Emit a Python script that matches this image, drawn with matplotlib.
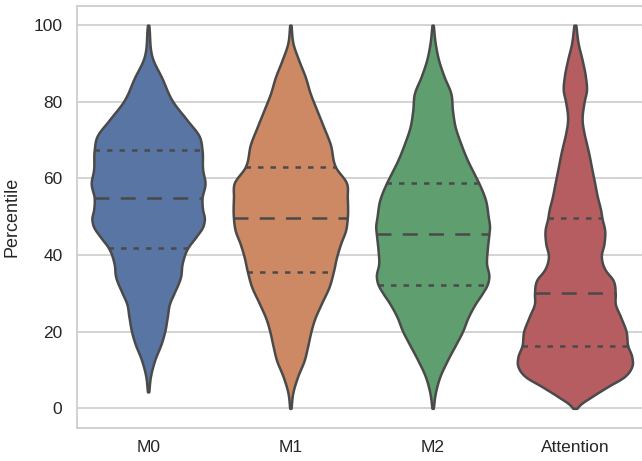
import numpy as np
import matplotlib
matplotlib.use("Agg")
import matplotlib.pyplot as plt
import seaborn as sns

categories = ["M0", "M1", "M2", "Attention"]

# density profiles: percentile levels and relative half-widths
m0_y = [100, 90.9, 86.5, 80.0, 75.2, 70.9, 67.4, 62.2, 58.7, 54.8, 51.7, 49.6, 47.4, 44.8,
        41.9, 37.8, 34.3, 30.0, 27.4, 23.9, 20.0, 17.0, 12.6, 8.3, 4.3]
m0_w = [2, 15, 40, 75, 118, 155, 163, 165, 172, 163, 165, 170, 165, 145,
        120, 103, 98, 78, 65, 58, 50, 40, 20, 7, 2]

m1_y = [100, 95.2, 90.9, 86.5, 82.2, 77.8, 73.5, 69.1, 62.9, 58.7, 55.2, 49.6, 46.5, 43.0,
        39.6, 35.7, 31.7, 27.4, 23.0, 20.0, 16.1, 12.6, 8.3, 3.9, 0]
m1_w = [2, 8, 25, 45, 60, 80, 100, 120, 137, 170, 172, 172, 167, 152,
        140, 130, 117, 94, 72, 62, 52, 42, 22, 7, 2]

m2_y = [100, 95.2, 90.9, 86.5, 82.2, 77.8, 73.5, 69.1, 64.8, 61.3, 58.7, 54.3, 50.0, 47.4,
        45.4, 41.3, 37.8, 34.3, 32.3, 30.0, 27.4, 23.9, 20.0, 17.0, 12.6, 8.3, 3.9, 0]
m2_w = [2, 8, 18, 35, 55, 60, 68, 85, 105, 125, 140, 160, 168, 172,
        170, 165, 163, 170, 165, 150, 130, 108, 90, 72, 45, 22, 8, 2]

att_y = [100, 95.2, 90.9, 86.5, 83.0, 80.0, 75.2, 71.7, 69.1, 66.5, 63.0, 58.7, 55.2, 51.7,
         49.6, 46.5, 43.0, 39.6, 36.1, 33.5, 30.0, 27.4, 23.9, 20.0, 16.3, 13.5, 10.9,
         8.3, 5.7, 3.0, 0.9, 0]
att_w = [3, 10, 22, 32, 35, 28, 22, 28, 35, 42, 50, 60, 68, 78,
         82, 90, 88, 80, 92, 115, 122, 122, 138, 155, 160, 172, 172,
         150, 100, 50, 15, 6]

# quartiles (Q1, median, Q3)
m0_q = [41.9, 54.8, 67.4]
m1_q = [35.7, 49.6, 62.9]
m2_q = [32.3, 45.4, 58.7]
att_q = [16.3, 30.0, 49.6]

profiles = [(m0_y, m0_w, m0_q), (m1_y, m1_w, m1_q), (m2_y, m2_w, m2_q), (att_y, att_w, att_q)]

plt.rcParams["font.family"] = ["Liberation Sans", "DejaVu Sans"]

base_colors = sns.color_palette("deep", 4)
colors = [sns.desaturate(c, 0.75) for c in base_colors]
edge = "#4a4a4a"


def smooth_outline(y, w, n=400):
    """Cubic Hermite curve through the read points, for drawing only."""
    m = np.gradient(w, y)
    yy = np.linspace(y[0], y[-1], n)
    idx = np.clip(np.searchsorted(y, yy) - 1, 0, len(y) - 2)
    h = y[idx + 1] - y[idx]
    t = (yy - y[idx]) / h
    h00 = 2 * t**3 - 3 * t**2 + 1
    h10 = t**3 - 2 * t**2 + t
    h01 = -2 * t**3 + 3 * t**2
    h11 = t**3 - t**2
    ww = h00 * w[idx] + h10 * h * m[idx] + h01 * w[idx + 1] + h11 * h * m[idx + 1]
    return yy, np.clip(ww, 0, None)


fig = plt.figure(figsize=(6.42, 4.61), dpi=100)
ax = fig.add_axes([77 / 642, 33.5 / 461, 569 / 642, 421.5 / 461])
ax.set_facecolor("white")

half = 0.4
for i, ((ys, ws, qs), col) in enumerate(zip(profiles, colors)):
    y = np.array(ys, dtype=float)
    w = np.array(ws, dtype=float)
    order = np.argsort(y)
    y, w = y[order], w[order] / 172.0 * half
    yy, ww = smooth_outline(y, w)
    ax.fill_betweenx(yy, i - ww, i + ww, facecolor=col, edgecolor=edge, linewidth=1.8, zorder=3)
    for k, q in enumerate(qs):
        qw = np.interp(q, yy, ww)
        if k == 1:
            ax.plot([i - qw, i + qw], [q, q], color=edge, linewidth=1.8,
                    dashes=(6, 4.5), zorder=4, dash_capstyle="butt")
        else:
            ax.plot([i - qw, i + qw], [q, q], color=edge, linewidth=1.8,
                    dashes=(2.2, 2.8), zorder=4, dash_capstyle="butt")

ax.set_xlim(-0.5, 3.5)
ax.set_ylim(-5, 105)
ax.set_xticks(range(4))
ax.set_xticklabels(categories)
ax.set_yticks([0, 20, 40, 60, 80, 100])
ax.yaxis.grid(True, color="#cccccc", linewidth=1.2, zorder=0)
ax.xaxis.grid(False)
ax.set_axisbelow(True)
for s in ax.spines.values():
    s.set_color("#cccccc")
    s.set_linewidth(1.25)
ax.tick_params(axis="y", length=0, labelsize=12.5, colors="#262626", pad=10.5)
ax.tick_params(axis="x", length=0, labelsize=12.5, colors="#262626", pad=9)
ax.set_ylabel("Percentile", fontsize=13, color="#262626", labelpad=9)

fig.savefig("out.png", dpi=100)
